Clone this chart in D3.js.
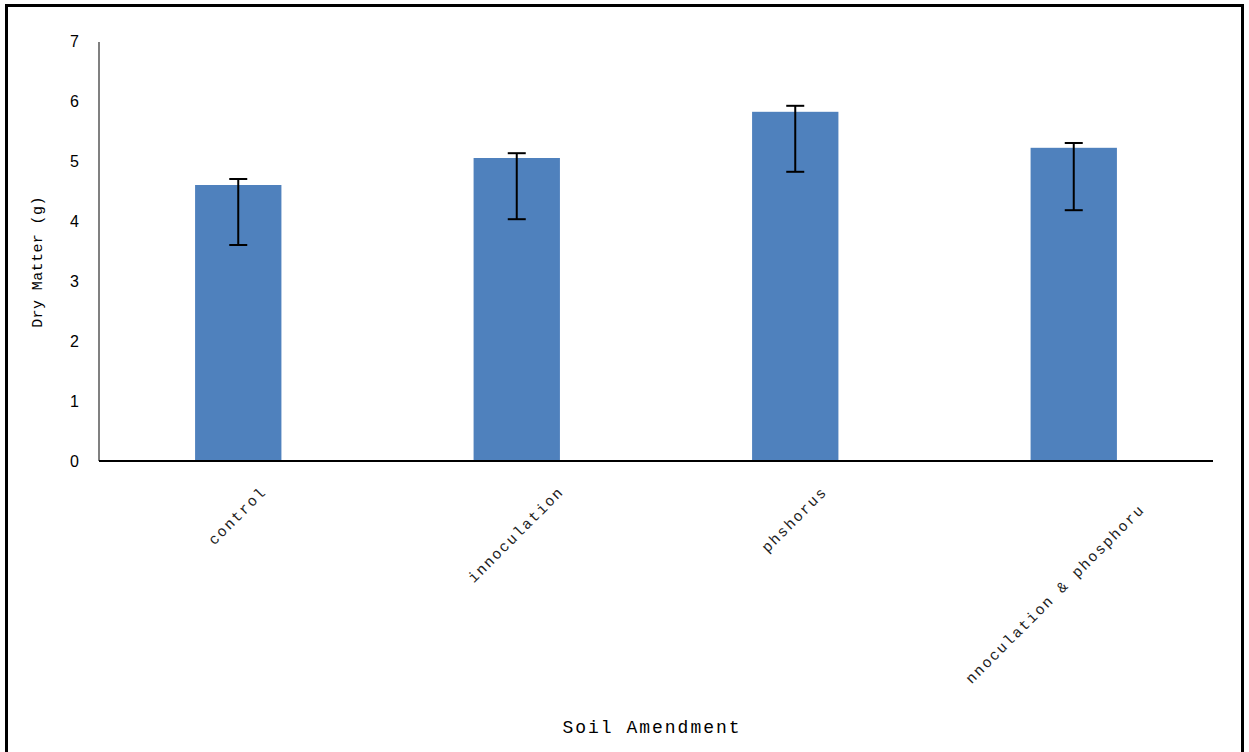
<!DOCTYPE html>
<html><head><meta charset="utf-8">
<script src="https://cdn.jsdelivr.net/npm/d3@7"></script>
<style>
html,body{margin:0;padding:0;background:#fff;}
svg{display:block;}
</style></head>
<body>
<svg id="chart" width="1249" height="752"></svg>
<script>
const categories = ["control", "innoculation", "phshorus", "nnoculation & phosphoru"];
const values = [4.6, 5.05, 5.82, 5.22];
const errUpper = [0.1, 0.08, 0.1, 0.08];
const errLower = [1.0, 1.02, 1.0, 1.04];
const yTicks = [0, 1, 2, 3, 4, 5, 6, 7];
const xTitle = "Soil Amendment";
const yTitle = "Dry Matter (g)";

const svg = d3.select("#chart");
const W = 1249, H = 752;
const margin = {left: 99, right: 36, top: 41, bottom: 291};

svg.append("rect").attr("x", 6.5).attr("y", 5.5).attr("width", 1236).attr("height", 800)
  .attr("fill", "#fff").attr("stroke", "#000").attr("stroke-width", 3);

const x = d3.scaleBand().domain(categories).range([margin.left, W - margin.right]).paddingInner(0.69).paddingOuter(0.345);
const y = d3.scaleLinear().domain([0, 7]).range([H - margin.bottom, margin.top]);

// bars
svg.selectAll("rect.bar").data(categories).enter().append("rect")
  .attr("class", "bar")
  .attr("x", d => x(d))
  .attr("width", x.bandwidth())
  .attr("y", (d, i) => y(values[i]))
  .attr("height", (d, i) => y(0) - y(values[i]))
  .attr("fill", "#4F81BD");

// y axis
const yAxis = d3.axisLeft(y).tickValues(yTicks).tickSize(0).tickPadding(20).tickFormat(d3.format("d"));
const gy = svg.append("g").attr("transform", `translate(${margin.left},0)`).call(yAxis);
gy.select(".domain").attr("stroke", "#808080").attr("stroke-width", 2).attr("d", `M0,${y(0)}V${y(7)+1}`);
gy.selectAll("text").attr("font-family", "Liberation Sans, Arial, sans-serif").attr("font-size", 16).attr("fill", "#000");

// x axis line
const xAxis = d3.axisBottom(x).tickSize(0).tickFormat("");
const gx = svg.append("g").attr("transform", `translate(0,${y(0)})`).call(xAxis);
gx.select(".domain").attr("stroke", "#000").attr("stroke-width", 2).attr("d", `M${margin.left},0H${W - margin.right}`);

// error bars
const cap = 9;
const eb = svg.append("g").attr("stroke", "#000").attr("stroke-width", 2).attr("fill", "none");
categories.forEach((c, i) => {
  const cx = x(c) + x.bandwidth() / 2;
  const yt = y(values[i] + errUpper[i]);
  const yb = y(values[i] - errLower[i]);
  eb.append("line").attr("x1", cx).attr("x2", cx).attr("y1", yt).attr("y2", yb);
  eb.append("line").attr("x1", cx - cap).attr("x2", cx + cap).attr("y1", yt).attr("y2", yt);
  eb.append("line").attr("x1", cx - cap).attr("x2", cx + cap).attr("y1", yb).attr("y2", yb);
});

// x tick labels rotated -45, rotated box centred on band, top aligned
const labelTop = y(0) + 25;
const labelShift = i => (i === categories.length - 1 ? 25 : 0);
const lg = svg.append("g");
categories.forEach((c, i) => {
  const t = lg.append("text").text(c)
    .attr("font-family", "Liberation Mono, Courier New, monospace")
    .attr("font-size", 15).attr("letter-spacing", 1.7)
    .attr("fill", "#222")
    .attr("text-anchor", "middle").attr("dominant-baseline", "central");
  const L = t.node().getComputedTextLength();
  const h = 12;
  const cx = x(c) + x.bandwidth() / 2 - labelShift(i) * 0.707;
  const cy = labelTop + (L + h) * 0.3536 + labelShift(i) * 0.707;
  t.attr("transform", `translate(${cx},${cy}) rotate(-45)`);
});

// axis titles
svg.append("text").text(xTitle)
  .attr("x", 652).attr("y", 733)
  .attr("text-anchor", "middle")
  .attr("font-family", "Liberation Mono, Courier New, monospace")
  .attr("font-size", 18).attr("letter-spacing", 2).attr("fill", "#000");

svg.append("text").text(yTitle)
  .attr("transform", `translate(42,262) rotate(-90)`)
  .attr("text-anchor", "middle")
  .attr("font-family", "Liberation Mono, Courier New, monospace")
  .attr("font-size", 15).attr("letter-spacing", 0.4).attr("fill", "#000");
</script>
</body></html>
